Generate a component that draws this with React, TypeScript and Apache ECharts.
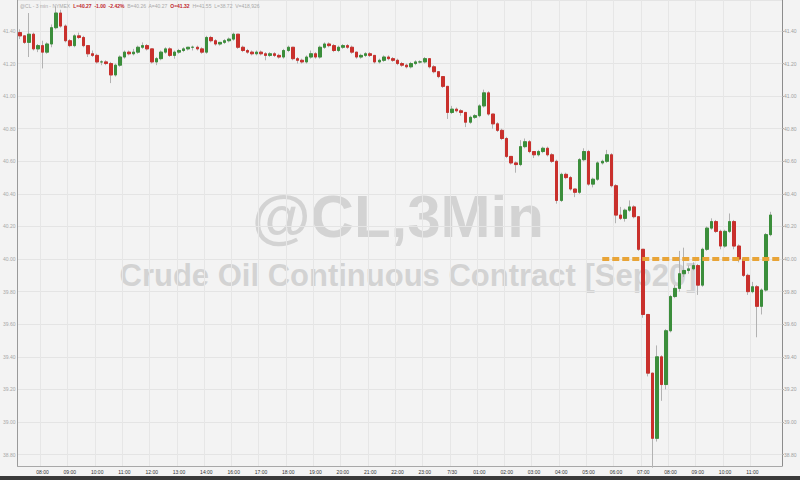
import React, { useEffect, useRef } from 'react';
import * as echarts from 'echarts';

// Trading sessions (10-minute bars); the hour 15:00-16:00 is the daily break
const sessions: [string, string][] = [
  ['07:10', '14:50'],
  ['16:00', '12:00'],
];
const dayBreakLabel = '7/30';

const opens = [
  41.39, 41.37, 41.33, 41.38, 41.29, 41.31, 41.27, 41.32, 41.42, 41.51,
  41.43, 41.34, 41.31, 41.37, 41.36, 41.31, 41.26, 41.25, 41.21, 41.21,
  41.20, 41.13, 41.19, 41.24, 41.27, 41.26, 41.27, 41.30, 41.31, 41.29,
  41.21, 41.23, 41.27, 41.29, 41.25, 41.27, 41.28, 41.29, 41.30, 41.30,
  41.29, 41.27, 41.36, 41.34, 41.32, 41.33, 41.34, 41.35, 41.38, 41.30,
  41.28, 41.27, 41.26, 41.27, 41.26, 41.25, 41.26, 41.25, 41.24, 41.28,
  41.30, 41.23, 41.22, 41.21, 41.24, 41.26, 41.24, 41.30, 41.32, 41.31,
  41.28, 41.30, 41.31, 41.30, 41.27, 41.24, 41.25, 41.26, 41.25, 41.21,
  41.22, 41.24, 41.23, 41.22, 41.20, 41.19, 41.18, 41.20, 41.21, 41.21,
  41.23, 41.18, 41.15, 41.12, 41.06, 40.90, 40.92, 40.91, 40.90, 40.84,
  40.87, 40.88, 40.94, 41.02, 40.89, 40.83, 40.79, 40.74, 40.63, 40.59,
  40.58, 40.69, 40.72, 40.66, 40.64, 40.66, 40.68, 40.64, 40.60, 40.36,
  40.52, 40.50, 40.43, 40.41, 40.61, 40.66, 40.46, 40.49, 40.59, 40.60,
  40.64, 40.45, 40.27, 40.25, 40.30, 40.32, 40.26, 40.06, 39.66, 39.30,
  38.90, 39.40, 39.23, 39.56, 39.77, 39.82, 39.91, 39.93, 39.94, 39.96,
  39.84, 40.06, 40.19, 40.23, 40.17, 40.08, 40.17, 40.23, 40.08, 40.00,
  39.90, 39.80, 39.83, 39.71, 39.81, 40.15,
];
const closes = [
  41.37, 41.33, 41.38, 41.29, 41.31, 41.27, 41.32, 41.42, 41.51, 41.43,
  41.34, 41.31, 41.37, 41.36, 41.31, 41.26, 41.25, 41.21, 41.21, 41.20,
  41.13, 41.19, 41.24, 41.27, 41.26, 41.27, 41.30, 41.31, 41.29, 41.21,
  41.23, 41.27, 41.29, 41.25, 41.27, 41.28, 41.29, 41.30, 41.30, 41.29,
  41.27, 41.36, 41.34, 41.32, 41.33, 41.34, 41.35, 41.38, 41.30, 41.28,
  41.27, 41.26, 41.27, 41.26, 41.25, 41.26, 41.25, 41.24, 41.28, 41.30,
  41.23, 41.22, 41.21, 41.24, 41.26, 41.24, 41.30, 41.32, 41.31, 41.28,
  41.30, 41.31, 41.30, 41.27, 41.24, 41.25, 41.26, 41.25, 41.21, 41.22,
  41.24, 41.23, 41.22, 41.20, 41.19, 41.18, 41.20, 41.21, 41.21, 41.23,
  41.18, 41.15, 41.12, 41.06, 40.90, 40.92, 40.91, 40.90, 40.84, 40.87,
  40.88, 40.94, 41.02, 40.89, 40.83, 40.79, 40.74, 40.63, 40.59, 40.58,
  40.69, 40.72, 40.66, 40.64, 40.66, 40.68, 40.64, 40.60, 40.36, 40.52,
  40.50, 40.43, 40.41, 40.61, 40.66, 40.46, 40.49, 40.59, 40.60, 40.64,
  40.45, 40.27, 40.25, 40.30, 40.32, 40.26, 40.06, 39.66, 39.30, 38.90,
  39.40, 39.23, 39.56, 39.77, 39.82, 39.91, 39.93, 39.94, 39.96, 39.84,
  40.06, 40.19, 40.23, 40.17, 40.08, 40.17, 40.23, 40.08, 40.00, 39.90,
  39.80, 39.83, 39.71, 39.81, 40.15, 40.27,
];
const highs = [
  41.41, 41.37, 41.51, 41.39, 41.32, 41.34, 41.33, 41.44, 41.55, 41.53,
  41.44, 41.35, 41.38, 41.39, 41.37, 41.31, 41.28, 41.26, 41.22, 41.22,
  41.21, 41.20, 41.25, 41.28, 41.28, 41.29, 41.31, 41.33, 41.32, 41.29,
  41.24, 41.28, 41.30, 41.30, 41.28, 41.29, 41.30, 41.30, 41.31, 41.31,
  41.30, 41.37, 41.37, 41.35, 41.33, 41.35, 41.36, 41.39, 41.38, 41.31,
  41.29, 41.28, 41.28, 41.28, 41.27, 41.27, 41.27, 41.26, 41.29, 41.31,
  41.30, 41.24, 41.23, 41.25, 41.28, 41.27, 41.31, 41.33, 41.33, 41.32,
  41.31, 41.32, 41.32, 41.31, 41.27, 41.26, 41.27, 41.27, 41.25, 41.23,
  41.25, 41.25, 41.24, 41.23, 41.21, 41.20, 41.21, 41.22, 41.22, 41.24,
  41.23, 41.19, 41.15, 41.12, 41.06, 40.94, 40.93, 40.92, 40.90, 40.88,
  40.89, 40.95, 41.04, 41.03, 40.89, 40.84, 40.80, 40.75, 40.63, 40.60,
  40.73, 40.74, 40.73, 40.66, 40.67, 40.69, 40.69, 40.65, 40.61, 40.53,
  40.53, 40.51, 40.43, 40.62, 40.68, 40.67, 40.50, 40.60, 40.61, 40.67,
  40.65, 40.46, 40.32, 40.31, 40.36, 40.33, 40.26, 40.06, 39.66, 39.30,
  39.47, 39.41, 39.57, 39.78, 39.84, 40.05, 40.07, 39.96, 39.98, 39.97,
  40.07, 40.20, 40.25, 40.24, 40.18, 40.18, 40.28, 40.24, 40.09, 40.01,
  39.91, 39.86, 39.84, 39.82, 40.16, 40.29,
];
const lows = [
  41.35, 41.32, 41.24, 41.28, 41.27, 41.17, 41.26, 41.30, 41.41, 41.42,
  41.33, 41.30, 41.30, 41.35, 41.30, 41.24, 41.24, 41.20, 41.19, 41.19,
  41.08, 41.12, 41.18, 41.23, 41.25, 41.25, 41.26, 41.29, 41.28, 41.20,
  41.19, 41.22, 41.26, 41.24, 41.23, 41.26, 41.27, 41.28, 41.28, 41.28,
  41.26, 41.26, 41.33, 41.31, 41.31, 41.32, 41.33, 41.34, 41.29, 41.27,
  41.26, 41.25, 41.25, 41.25, 41.22, 41.24, 41.24, 41.23, 41.23, 41.27,
  41.22, 41.20, 41.20, 41.20, 41.23, 41.23, 41.23, 41.29, 41.30, 41.27,
  41.27, 41.29, 41.29, 41.26, 41.23, 41.23, 41.24, 41.24, 41.20, 41.20,
  41.21, 41.22, 41.21, 41.19, 41.18, 41.17, 41.17, 41.19, 41.20, 41.20,
  41.17, 41.14, 41.11, 41.05, 40.86, 40.89, 40.90, 40.88, 40.81, 40.83,
  40.86, 40.87, 40.93, 40.88, 40.80, 40.78, 40.73, 40.62, 40.58, 40.53,
  40.57, 40.68, 40.65, 40.62, 40.63, 40.65, 40.63, 40.59, 40.34, 40.35,
  40.49, 40.42, 40.38, 40.40, 40.60, 40.45, 40.44, 40.48, 40.58, 40.59,
  40.44, 40.22, 40.24, 40.23, 40.29, 40.25, 40.05, 39.64, 39.28, 38.72,
  38.88, 39.13, 39.20, 39.55, 39.76, 39.80, 39.89, 39.91, 39.93, 39.78,
  39.83, 40.05, 40.18, 40.16, 40.06, 40.07, 40.16, 40.06, 39.98, 39.89,
  39.78, 39.79, 39.52, 39.66, 39.80, 40.14,
];

const lastPrice = 40.27;
const supportLevel = 40.0;
const supportFrom = '05:30';
const priceMin = 38.73;
const priceMax = 41.59;
const priceStep = 0.2;

const headerParts: [string, string][] = [
  ['g', '@CL - 3 min - NYMEX  '],
  ['r', 'L=40.27  -1.00  -2.42%  '],
  ['g', 'B=40.26  A=40.27  '],
  ['r', 'O=41.32  '],
  ['g', 'H=41.55  L=38.72  V=418,926'],
];
const watermarkTitle = '@CL,3Min';
const watermarkSubtitle = 'Crude Oil Continuous Contract [Sep20]';

const pad = (n: number) => (n < 10 ? '0' + n : '' + n);
function buildCategories(): string[] {
  const out: string[] = [];
  for (const [s, e] of sessions) {
    let [h, m] = s.split(':').map(Number);
    const [eh, em] = e.split(':').map(Number);
    for (let guard = 0; guard < 500; guard++) {
      out.push(pad(h) + ':' + pad(m));
      if (h === eh && m === em) break;
      m += 10;
      if (m >= 60) {
        m -= 60;
        h = (h + 1) % 24;
      }
    }
  }
  return out;
}

export default function App() {
  const ref = useRef<HTMLDivElement>(null);
  useEffect(() => {
    if (!ref.current) return;
    const chart = echarts.init(ref.current, undefined, { renderer: 'svg' });
    const categories = buildCategories();
    const n = closes.length;
    const showHour = (idx: number, val: string) => idx < n && val.endsWith(':00');
    const font = 'Liberation Sans, Arial, sans-serif';

    const fullData = opens.map((o, i) => [o, closes[i], lows[i], highs[i]]);
    const bodyData = opens.map((o, i) => [o, closes[i], Math.min(o, closes[i]), Math.max(o, closes[i])]);

    const yCommon = {
      type: 'value',
      min: priceMin,
      max: priceMax,
      splitNumber: 14,
      minInterval: priceStep,
      maxInterval: priceStep,
    };
    const wickGrey = '#b2b2b2';

    chart.setOption({
      animation: false,
      backgroundColor: '#f3f3f3',
      textStyle: { fontFamily: font },
      grid: { left: 17, right: 18, top: 0, bottom: 14 },
      xAxis: {
        type: 'category',
        data: categories,
        boundaryGap: true,
        axisLine: { show: true, lineStyle: { color: '#a8a8a8', width: 1 } },
        axisTick: { show: false },
        axisLabel: {
          interval: showHour,
          formatter: (v: string) => (v === '00:00' ? dayBreakLabel : v),
          fontSize: 5,
          color: '#333',
          margin: 3,
        },
        splitLine: { show: true, interval: showHour, lineStyle: { color: '#e6e6e6', width: 1 } },
      },
      yAxis: [
        {
          ...yCommon,
          position: 'right',
          axisLine: { show: true, lineStyle: { color: '#8c8c8c' } },
          axisTick: { show: true, length: 2, lineStyle: { color: '#b0b0b0' } },
          axisLabel: {
            fontSize: 5,
            color: '#a0a0a0',
            margin: 2,
            showMinLabel: false,
            showMaxLabel: false,
            formatter: (v: number) => v.toFixed(2),
          },
          splitLine: { show: true, lineStyle: { color: '#e4e4e4', width: 1 } },
        },
        {
          ...yCommon,
          position: 'left',
          axisLine: { show: true, lineStyle: { color: '#9a9a9a' } },
          axisTick: { show: false },
          axisLabel: {
            fontSize: 5,
            color: '#a8a8a8',
            margin: 2,
            showMinLabel: false,
            showMaxLabel: false,
            formatter: (v: number) => v.toFixed(2),
          },
          splitLine: { show: false },
        },
      ],
      graphic: [
        {
          type: 'text',
          z: 0,
          style: {
            text: watermarkTitle,
            x: 398,
            y: 216,
            align: 'center',
            verticalAlign: 'middle',
            font: 'bold 60px Liberation Sans, Arial, sans-serif',
            fill: '#d3d3d3',
          },
        },
        {
          type: 'text',
          z: 0,
          style: {
            text: watermarkSubtitle,
            x: 408,
            y: 275,
            align: 'center',
            verticalAlign: 'middle',
            font: 'bold 31px Liberation Sans, Arial, sans-serif',
            fill: '#d3d3d3',
          },
        },
        {
          type: 'text',
          z: 10,
          style: {
            x: 20,
            y: 6,
            verticalAlign: 'middle',
            text: headerParts.map(([k, t]) => `{${k}|${t}}`).join(''),
            rich: {
              g: { fontSize: 5, fill: '#a9a9a9', fontFamily: font },
              r: { fontSize: 5, fill: '#c0282d', fontFamily: font, fontWeight: 'bold' },
            },
          },
        },
        {
          type: 'rect',
          z: 10,
          shape: { x: 0, y: 476, width: 800, height: 4 },
          style: { fill: '#3a3a3a' },
        },
      ],
      series: [
        {
          name: 'wicks',
          type: 'candlestick',
          data: fullData,
          barWidth: 3,
          yAxisIndex: 0,
          itemStyle: {
            color: wickGrey,
            color0: wickGrey,
            borderColor: wickGrey,
            borderColor0: wickGrey,
            borderWidth: 1,
          },
        },
        {
          name: 'bodies',
          type: 'candlestick',
          data: bodyData,
          barWidth: 3,
          yAxisIndex: 0,
          itemStyle: {
            color: '#3b8e3b',
            color0: '#c9302c',
            borderColor: '#3b8e3b',
            borderColor0: '#c9302c',
            borderWidth: 1,
          },
          markLine: {
            silent: true,
            symbol: ['none', 'none'],
            data: [
              {
                yAxis: lastPrice,
                lineStyle: { opacity: 0 },
                label: {
                  show: true,
                  position: 'end',
                  distance: 1,
                  formatter: lastPrice.toFixed(2),
                  backgroundColor: '#d5262c',
                  color: '#ffffff',
                  fontSize: 5,
                  padding: [2, 2],
                },
              },
              [
                {
                  coord: [supportFrom, supportLevel],
                  lineStyle: { color: '#e8a437', width: 4, type: [7, 3] },
                  label: { show: false },
                },
                { coord: [categories[categories.length - 1], supportLevel] },
              ],
            ],
          },
        },
      ],
    });
    return () => chart.dispose();
  }, []);
  return <div ref={ref} style={{ position: 'absolute', left: 0, top: 0, width: 800, height: 480 }} />;
}
